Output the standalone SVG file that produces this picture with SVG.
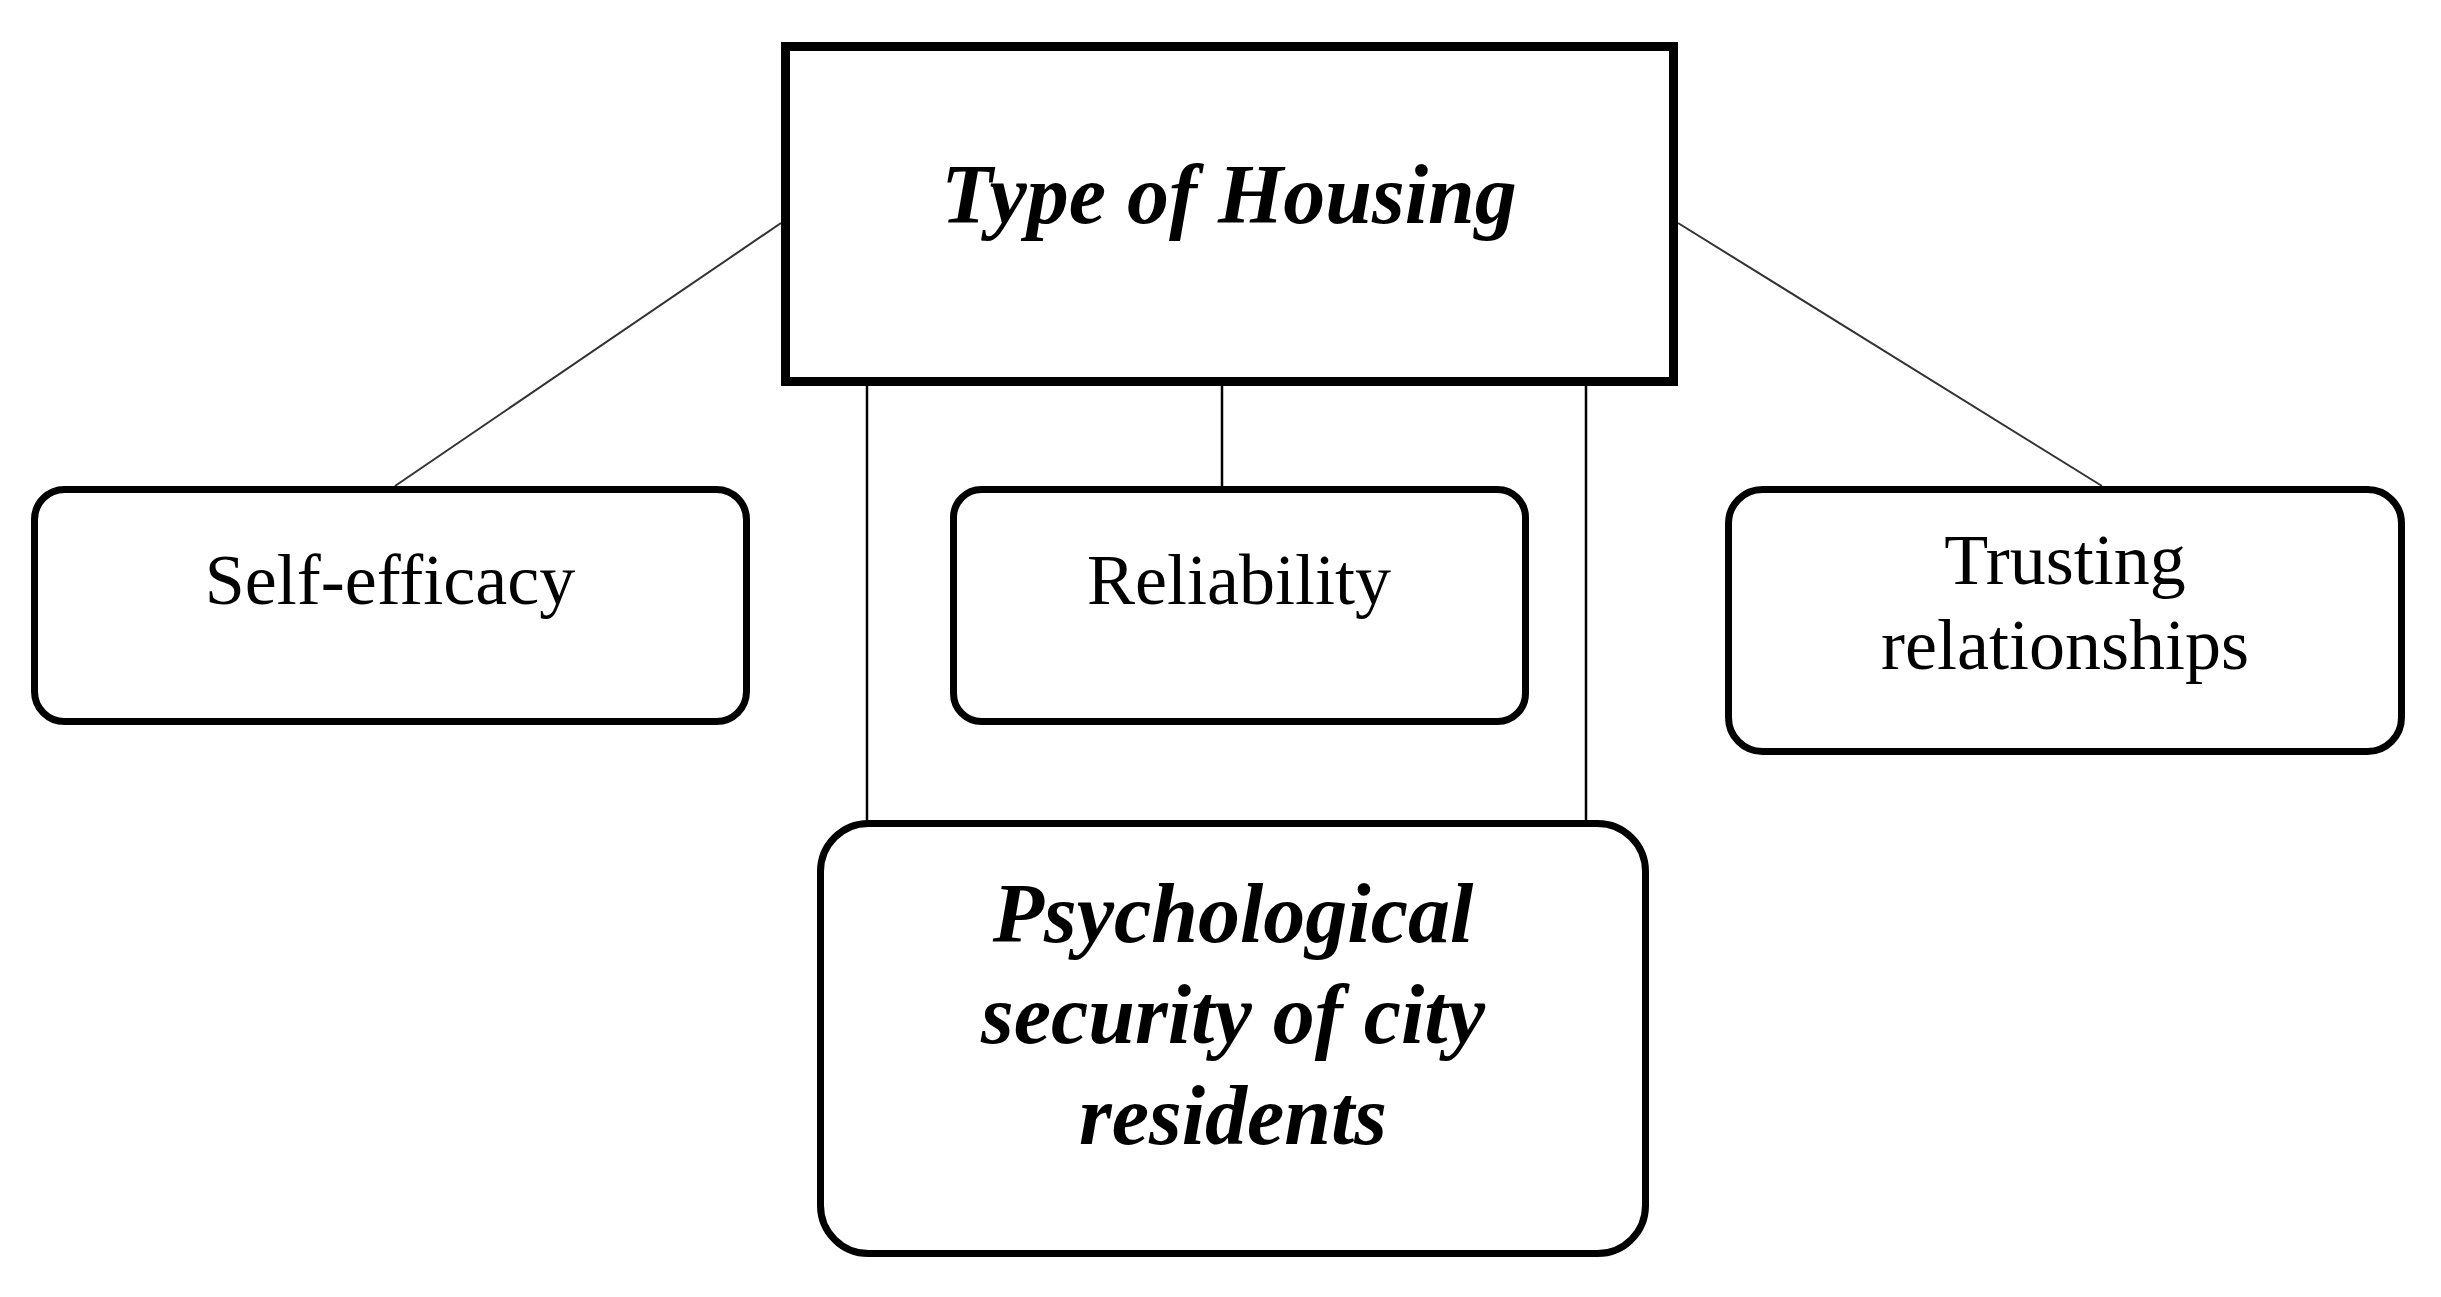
<svg xmlns="http://www.w3.org/2000/svg" width="2441" height="1297" viewBox="0 0 2441 1297">
<style>
.box{fill:#fff;stroke:#000;stroke-width:7}
.top{fill:#fff;stroke:#000;stroke-width:9}
.conn line{stroke:#000;stroke-width:2.5}
.diag{stroke:#333 !important;stroke-width:2 !important}
.t{font-family:"Liberation Serif","Times New Roman",serif;font-size:72px;fill:#000;text-anchor:middle}
.bi{font-family:"Liberation Serif","Times New Roman",serif;font-size:84px;font-weight:bold;font-style:italic;fill:#000;text-anchor:middle}
</style>
<rect width="2441" height="1297" fill="#fff"/>
<g id="connectors" class="conn">
<line class="diag" x1="395" y1="486" x2="781" y2="223"/>
<line class="diag" x1="1678" y1="223" x2="2102" y2="486"/>
<line x1="867" y1="386" x2="867" y2="822"/>
<line x1="1222" y1="386" x2="1222" y2="488"/>
<line x1="1586" y1="386" x2="1586" y2="822"/>
</g>
<g id="type-of-housing">
<rect class="top" x="785.500" y="46.500" width="888" height="335"/>
<text class="bi" x="1229" y="223">Type of Housing</text>
</g>
<g id="self-efficacy">
<rect class="box" x="34.500" y="489.500" width="712" height="232" rx="30"/>
<text class="t" x="390" y="604">Self-efficacy</text>
</g>
<g id="reliability">
<rect class="box" x="953.500" y="489.500" width="572" height="232" rx="28"/>
<text class="t" x="1239" y="604">Reliability</text>
</g>
<g id="trusting-relationships">
<rect class="box" x="1728.500" y="489.500" width="673" height="262" rx="34"/>
<text class="t" x="2065" y="584">Trusting</text>
<text class="t" x="2065" y="669">relationships</text>
</g>
<g id="psychological-security">
<rect class="box" x="820.500" y="823.500" width="825" height="430" rx="48"/>
<text class="bi" x="1233" y="942">Psychological</text>
<text class="bi" x="1233" y="1043">security of city</text>
<text class="bi" x="1233" y="1144">residents</text>
</g>
</svg>
